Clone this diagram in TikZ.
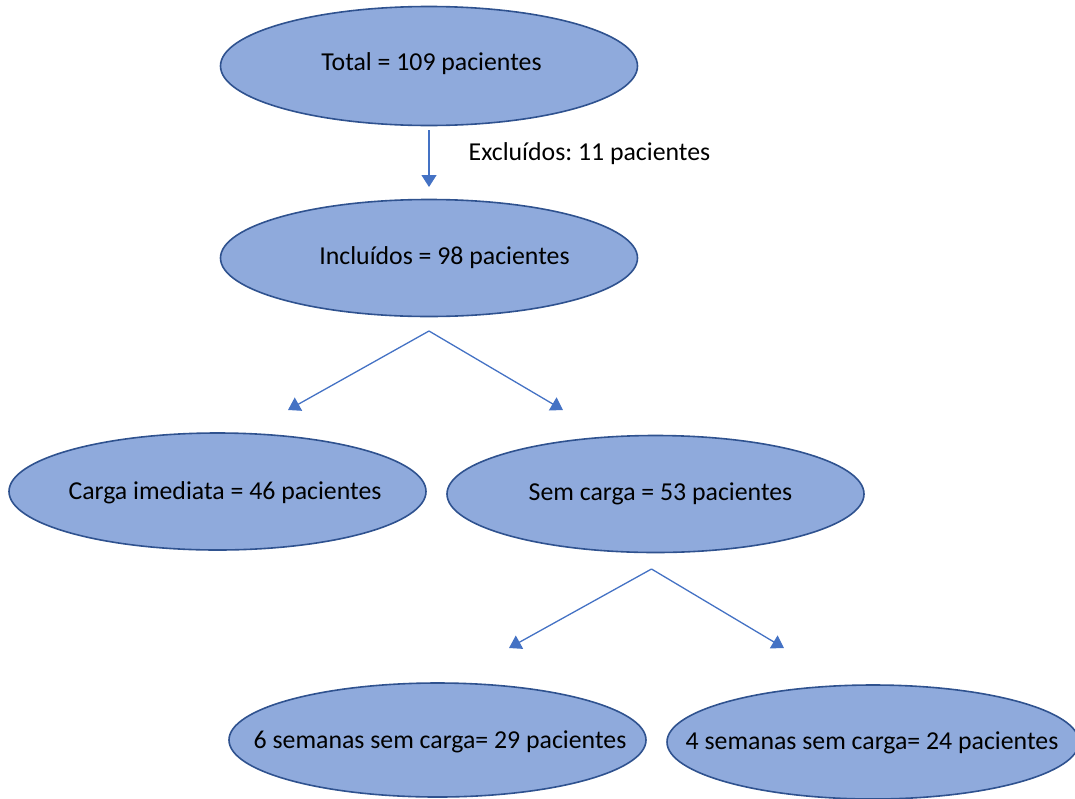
\documentclass[tikz,border=0pt]{standalone}
\usepackage{fontspec}
\setmainfont{Carlito}
\usetikzlibrary{shapes.geometric,arrows.meta}
\definecolor{ellfill}{HTML}{8FAADC}
\definecolor{elldraw}{HTML}{2F528F}
\definecolor{conn}{HTML}{4472C4}
\frenchspacing
\begin{document}
\begin{tikzpicture}[x=1pt,y=-1pt,
  oval/.style={ellipse,draw=elldraw,fill=ellfill,line width=1.6pt,inner sep=0pt,minimum width=417pt,minimum height=117pt},
  txt/.style={font=\fontsize{25.8}{30}\selectfont,inner sep=0pt,anchor=center},
  conline/.style={draw=conn,line width=1.3pt,-{Triangle[length=12pt,width=15pt]}}]
\useasboundingbox (0,0) rectangle (1075,798);
\path[clip] (0,0) rectangle (1075,798);
% ellipses
\node[oval,minimum height=119pt] (tot) at (429,66) {};
\node[oval] (inc) at (429,258) {};
\node[oval] (car) at (217.5,491.5) {};
\node[oval] (sem) at (655.5,494) {};
\node[oval,minimum height=114pt] (six) at (437.5,740) {};
\node[oval,minimum height=114pt,minimum width=412pt] (four) at (873,742) {};
% texts
\node[txt] (ttot) at (431.5,64) {Total = 109 pacientes};
\node[txt] (tinc) at (444.5,258) {Incluídos = 98 pacientes};
\node[txt] (tcar) at (225,493) {Carga imediata = 46 pacientes};
\node[txt] (tsem) at (660.5,494) {Sem carga = 53 pacientes};
\node[txt] (tsix) at (440,742) {6 semanas sem carga= 29 pacientes};
\node[txt] (tfour) at (872,743) {4 semanas sem carga= 24 pacientes};
\node[txt] (excl) at (589.5,154) {Excluídos: 11 pacientes};
% connector points
\coordinate (a1s) at (429,130);
\coordinate (a1e) at (429,187);
\coordinate (ap1) at (429,331);
\coordinate (l1) at (288,410);
\coordinate (r1) at (563,410);
\coordinate (ap2) at (651.5,569);
\coordinate (l2) at (509,648);
\coordinate (r2) at (784,648);
\draw[conline] (a1s) -- (a1e);
\draw[conline] (ap1) -- (l1);
\draw[conline] (ap1) -- (r1);
\draw[conline] (ap2) -- (l2);
\draw[conline] (ap2) -- (r2);
\end{tikzpicture}
\end{document}
